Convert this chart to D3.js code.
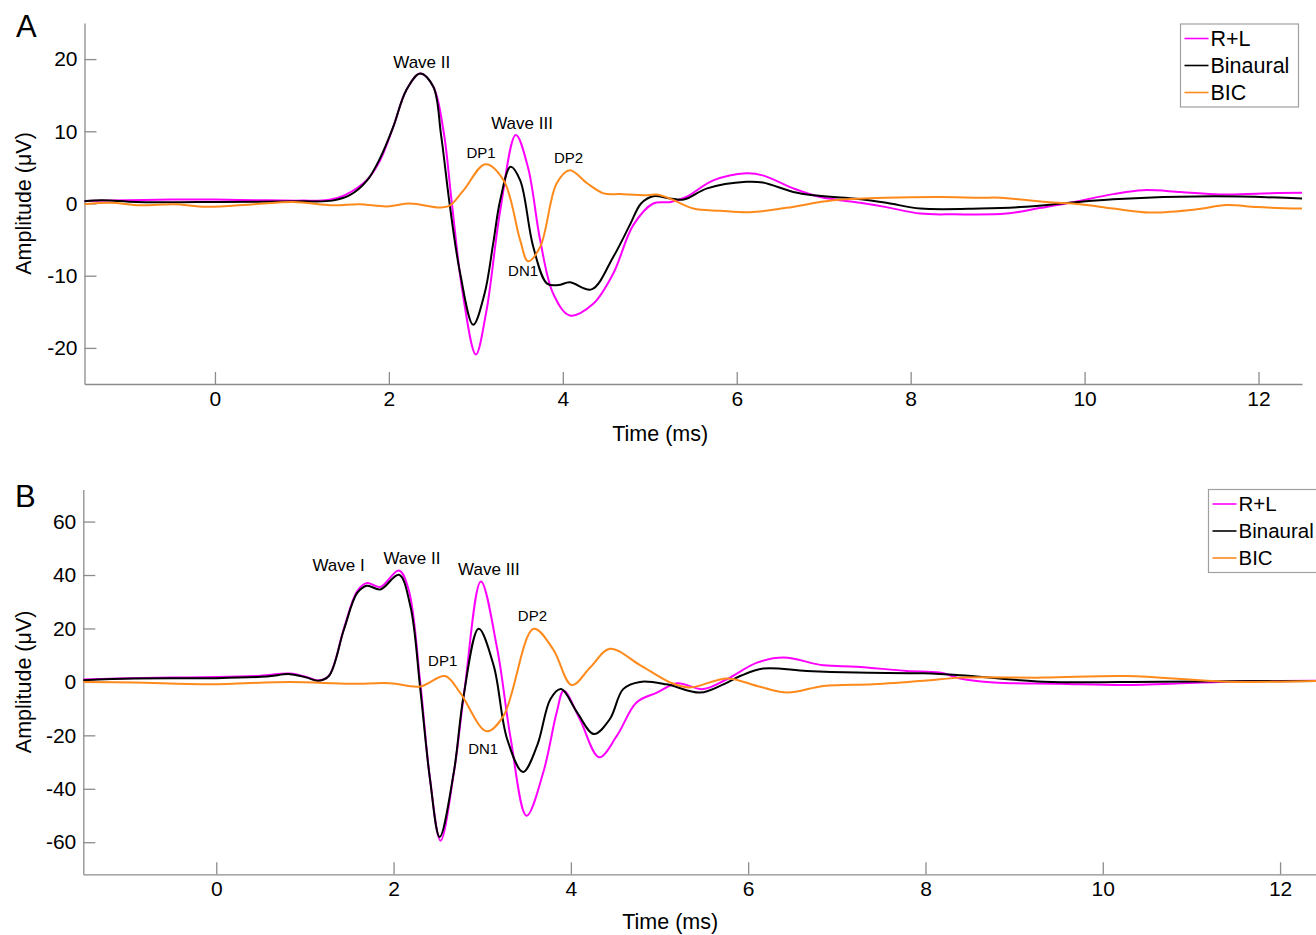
<!DOCTYPE html>
<html>
<head>
<meta charset="utf-8">
<script src="https://cdn.jsdelivr.net/npm/d3@7"></script>
<style>
  html, body { margin: 0; padding: 0; background: #fff; }
  svg { display: block; }
</style>
</head>
<body>
<svg id="chart" width="1316" height="935"></svg>
<script>
// ---------- Panel A: R+L, binaural and BIC waveforms ----------
const timeA_RL = [-1.5, -1.0, -0.5, 0, 0.5, 1.0, 1.3, 1.5, 1.75, 1.9, 2.05, 2.2, 2.36, 2.51, 2.63, 2.72, 2.85, 3.0, 3.12, 3.28, 3.46, 3.6, 3.74, 3.89, 4.08, 4.35, 4.58, 4.81, 5.04, 5.24, 5.42, 5.73, 6.11, 6.3, 6.65, 6.96, 7.42, 7.72, 8.11, 8.5, 9.1, 9.5, 9.83, 10.33, 10.67, 11.1, 11.55, 12.05, 12.5];
const ampA_RL  = [0.35, 0.45, 0.55, 0.55, 0.45, 0.4, 0.5, 1.2, 3.3, 6.0, 10.6, 15.7, 18.0, 16.2, 9.9, 0.5, -12.5, -20.9, -15.0, -1.0, 9.5, 5.0, -5.1, -12.5, -15.5, -13.9, -9.7, -3.0, 0, 0.2, 0.9, 3.2, 4.2, 3.9, 2.1, 0.9, 0.1, -0.5, -1.4, -1.5, -1.4, -0.6, 0.1, 1.3, 1.85, 1.6, 1.25, 1.4, 1.5];

const timeA_Bin = [-1.5, -1.3, -0.9, -0.2, 0.5, 1.0, 1.35, 1.55, 1.75, 1.9, 2.05, 2.2, 2.36, 2.51, 2.6, 2.7, 2.82, 2.97, 3.1, 3.2, 3.28, 3.40, 3.51, 3.66, 3.82, 3.95, 4.08, 4.33, 4.58, 4.77, 4.9, 5.04, 5.23, 5.39, 5.66, 6.11, 6.3, 6.65, 6.88, 7.34, 7.72, 8.11, 8.8, 9.26, 9.83, 10.33, 11.48, 12.5];
const ampA_Bin  = [0.3, 0.45, 0.2, 0.2, 0.25, 0.3, 0.4, 1.15, 3.2, 6.3, 10.6, 15.7, 18.0, 16.2, 9.5, -0.2, -9.7, -16.8, -12.5, -5.5, 0.45, 5.1, 3.2, -6.0, -11.1, -11.3, -10.9, -11.9, -7.4, -3.0, 0, 1.0, 0.7, 0.55, 2.1, 3.0, 2.9, 1.6, 1.15, 0.7, 0.1, -0.7, -0.7, -0.5, 0.1, 0.6, 1.0, 0.7];

const timeA_BIC = [-1.5, -1.2, -0.86, -0.47, -0.1, 0.45, 0.9, 1.36, 1.66, 1.98, 2.24, 2.59, 2.7, 2.86, 3.11, 3.32, 3.51, 3.6, 3.74, 3.93, 4.08, 4.28, 4.47, 4.66, 4.97, 5.08, 5.23, 5.5, 5.81, 6.15, 6.57, 7.11, 7.72, 8.34, 8.8, 9.03, 9.56, 9.95, 10.33, 10.75, 11.29, 11.63, 11.98, 12.5];
const ampA_BIC  = [-0.1, 0.1, -0.25, -0.1, -0.45, -0.1, 0.2, -0.25, -0.1, -0.4, 0, -0.55, -0.3, 1.85, 5.45, 3.2, -5.1, -8.0, -6.0, 2.8, 4.6, 2.8, 1.4, 1.3, 1.15, 1.25, 0.7, -0.7, -1.0, -1.2, -0.6, 0.45, 0.8, 0.9, 0.8, 0.8, 0.2, -0.1, -0.7, -1.25, -0.8, -0.2, -0.5, -0.7];

const xTicksA = [0, 2, 4, 6, 8, 10, 12];
const yTicksA = [-20, -10, 0, 10, 20];

const peakLabelsA = ["Wave II", "Wave III", "DP1", "DP2", "DN1"];
const peakTimesA  = [2.378, 3.531, 3.06, 4.066, 3.543];
const peakAmpsA   = [19.64, 11.08, 6.99, 6.37, -9.35];

// ---------- Panel B ----------
const timeB_RL = [-1.5, -1.0, -0.5, 0, 0.5, 0.83, 1.02, 1.15, 1.27, 1.44, 1.59, 1.7, 1.85, 2.06, 2.17, 2.3, 2.41, 2.53, 2.68, 2.8, 2.985, 3.17, 3.32, 3.5, 3.69, 3.84, 3.92, 4.1, 4.32, 4.52, 4.74, 4.97, 5.2, 5.49, 5.76, 6.1, 6.4, 6.85, 7.22, 7.79, 8.16, 8.39, 8.77, 9.5, 10.27, 11.4, 12.5];
const ampB_RL  = [0.9, 1.4, 1.6, 1.8, 2.3, 3.1, 1.8, 0.5, 2.3, 20.0, 34.0, 37.0, 35.5, 41.7, 34.5, 0, -36.0, -59.4, -34.0, -3.0, 37.6, 12.2, -21.0, -50.1, -33.7, -11.4, -3.3, -13.9, -28.2, -20.1, -7.7, -4.0, -0.5, -2.7, 1.0, 7.2, 9.1, 6.2, 5.7, 4.1, 3.5, 1.3, -0.2, -0.7, -1.2, 0.1, 0.4];

const timeB_Bin = [-1.5, -0.93, 0, 0.57, 0.83, 1.02, 1.15, 1.27, 1.44, 1.59, 1.7, 1.85, 2.06, 2.19, 2.3, 2.41, 2.52, 2.68, 2.79, 2.96, 3.13, 3.28, 3.46, 3.62, 3.77, 3.89, 4.07, 4.26, 4.44, 4.59, 4.78, 5.08, 5.46, 5.72, 5.91, 6.17, 6.66, 7.22, 7.98, 8.39, 9.33, 10.65, 12.5];
const ampB_Bin  = [0.6, 1.25, 1.4, 2.0, 2.9, 1.6, 0.4, 2.2, 19.6, 33.3, 36.0, 34.6, 40.1, 28.3, -2.2, -36.2, -58.0, -33.7, -5.2, 19.9, 6.0, -21.3, -33.7, -23.8, -6.4, -2.7, -11.4, -19.5, -13.9, -2.7, 0, -0.9, -4.0, -0.9, 2.2, 5.0, 4.1, 3.5, 3.2, 2.5, 0.1, 0.1, 0.4];

const timeB_BIC = [-1.5, -0.93, -0.07, 0.83, 1.51, 1.96, 2.3, 2.58, 2.75, 3.05, 3.24, 3.58, 3.8, 4.01, 4.22, 4.44, 4.78, 5.12, 5.34, 5.76, 6.1, 6.44, 6.85, 7.41, 7.98, 8.39, 9.33, 10.27, 11.4, 12.5];
const ampB_BIC  = [0, -0.2, -0.9, 0, -0.7, -0.5, -1.7, 2.2, -4.0, -18.5, -12.7, 19.9, 12.2, -1.2, 5.5, 12.4, 6.3, -0.2, -2.1, 1.3, -1.5, -4.0, -1.5, -0.9, 0.4, 1.6, 1.6, 2.2, 0.1, 0.4];

const xTicksB = [0, 2, 4, 6, 8, 10, 12];
const yTicksB = [-60, -40, -20, 0, 20, 40, 60];

const peakLabelsB = ["Wave I", "Wave II", "Wave III", "DP1", "DP2", "DN1"];
const peakTimesB  = [1.379, 2.207, 3.076, 2.554, 3.566, 3.011];
const peakAmpsB   = [43.6, 46.4, 42.4, 7.9, 24.6, -25.2];

const seriesNames = ["R+L", "Binaural", "BIC"];
const seriesColors = ["#ff00ff", "#000000", "#ff8a1c"];

// ---------- drawing ----------
const FONT = "'Liberation Sans', Arial, Helvetica, sans-serif";
const AXIS_GREY = "#8c8c8c";
const svg = d3.select("#chart");
const plainInt = d => String(d);   // hyphen-minus, as in the printed figure

function drawPanel(cfg) {
  const x = d3.scaleLinear().domain([-1.5, 12.5]).range([cfg.left, cfg.right]);
  const y = d3.scaleLinear().domain(cfg.yDomain).range([cfg.bottom, cfg.top]);
  const g = svg.append("g");

  // axes (left + bottom only, ticks pointing inward)
  const xAxis = d3.axisBottom(x).tickValues(cfg.xTicks).tickSizeInner(-12).tickSizeOuter(0).tickPadding(7).tickFormat(plainInt);
  const yAxis = d3.axisLeft(y).tickValues(cfg.yTicks).tickSizeInner(-12).tickSizeOuter(0).tickPadding(7).tickFormat(plainInt);

  const gx = g.append("g").attr("transform", `translate(0,${cfg.bottom})`).call(xAxis);
  const gy = g.append("g").attr("transform", `translate(${cfg.left},0)`).call(yAxis);
  [gx, gy].forEach(a => {
    a.select(".domain").attr("stroke", AXIS_GREY).attr("stroke-width", 1.3);
    a.selectAll(".tick line").attr("stroke", AXIS_GREY).attr("stroke-width", 1.3);
    a.selectAll(".tick text").attr("fill", "#000").style("font-family", FONT).style("font-size", "21px");
  });

  // axis titles
  g.append("text").attr("x", x(5.12)).attr("y", cfg.xTitleY).attr("dy", "0.35em")
    .attr("text-anchor", "middle").style("font-family", FONT).style("font-size", "21.5px").text("Time (ms)");
  g.append("text").attr("transform", `translate(23,${y(0)}) rotate(-90)`).attr("dy", "0.35em")
    .attr("text-anchor", "middle").style("font-family", FONT).style("font-size", "21.5px").text("Amplitude (μV)");

  // panel letter
  g.append("text").attr("x", cfg.letterX).attr("y", cfg.letterY)
    .style("font-family", FONT).style("font-size", "31px").text(cfg.letter);

  // traces
  const line = d3.line().x(d => x(d[0])).y(d => y(d[1])).curve(d3.curveCatmullRom.alpha(0.5));
  cfg.series.forEach((s, i) => {
    const pts = s.t.map((t, k) => [t, s.v[k]]);
    g.append("path").datum(pts).attr("d", line)
      .attr("fill", "none").attr("stroke", seriesColors[i]).attr("stroke-width", 2)
      .attr("stroke-linejoin", "round");
  });

  // peak annotations
  cfg.labels.forEach((lab, i) => {
    const small = lab.startsWith("D");
    g.append("text").attr("x", x(cfg.labelT[i])).attr("y", y(cfg.labelV[i])).attr("dy", "0.35em")
      .attr("text-anchor", "middle").style("font-family", FONT)
      .style("font-size", small ? "15px" : "17px").text(lab);
  });

  // legend
  const lg = g.append("g");
  lg.append("rect").attr("x", cfg.legX).attr("y", cfg.legY).attr("width", 118).attr("height", 83)
    .attr("fill", "#fff").attr("stroke", "#a0a0a0").attr("stroke-width", 1.2);
  seriesNames.forEach((name, i) => {
    const cy = cfg.legY + 14.5 + i * 27;
    lg.append("line").attr("x1", cfg.legX + 4).attr("x2", cfg.legX + 28).attr("y1", cy).attr("y2", cy)
      .attr("stroke", seriesColors[i]).attr("stroke-width", 1.6);
    lg.append("text").attr("x", cfg.legX + 30).attr("y", cy).attr("dy", "0.35em")
      .style("font-family", FONT).style("font-size", cfg.legFont).text(name);
  });
}

drawPanel({
  left: 84.5, right: 1302, top: 23, bottom: 384, yDomain: [-25, 25],
  xTicks: xTicksA, yTicks: yTicksA, xTitleY: 433,
  letter: "A", letterX: 16, letterY: 37,
  series: [{t: timeA_RL, v: ampA_RL}, {t: timeA_Bin, v: ampA_Bin}, {t: timeA_BIC, v: ampA_BIC}],
  labels: peakLabelsA, labelT: peakTimesA, labelV: peakAmpsA,
  legX: 1180.5, legY: 24, legFont: "21.5px"
});

drawPanel({
  left: 83.3, right: 1324.4, top: 489.5, bottom: 874.3, yDomain: [-72, 72],
  xTicks: xTicksB, yTicks: yTicksB, xTitleY: 921,
  letter: "B", letterX: 15, letterY: 507,
  series: [{t: timeB_RL, v: ampB_RL}, {t: timeB_Bin, v: ampB_Bin}, {t: timeB_BIC, v: ampB_BIC}],
  labels: peakLabelsB, labelT: peakTimesB, labelV: peakAmpsB,
  legX: 1208.5, legY: 489.5, legFont: "20.5px"
});
</script>
</body>
</html>
